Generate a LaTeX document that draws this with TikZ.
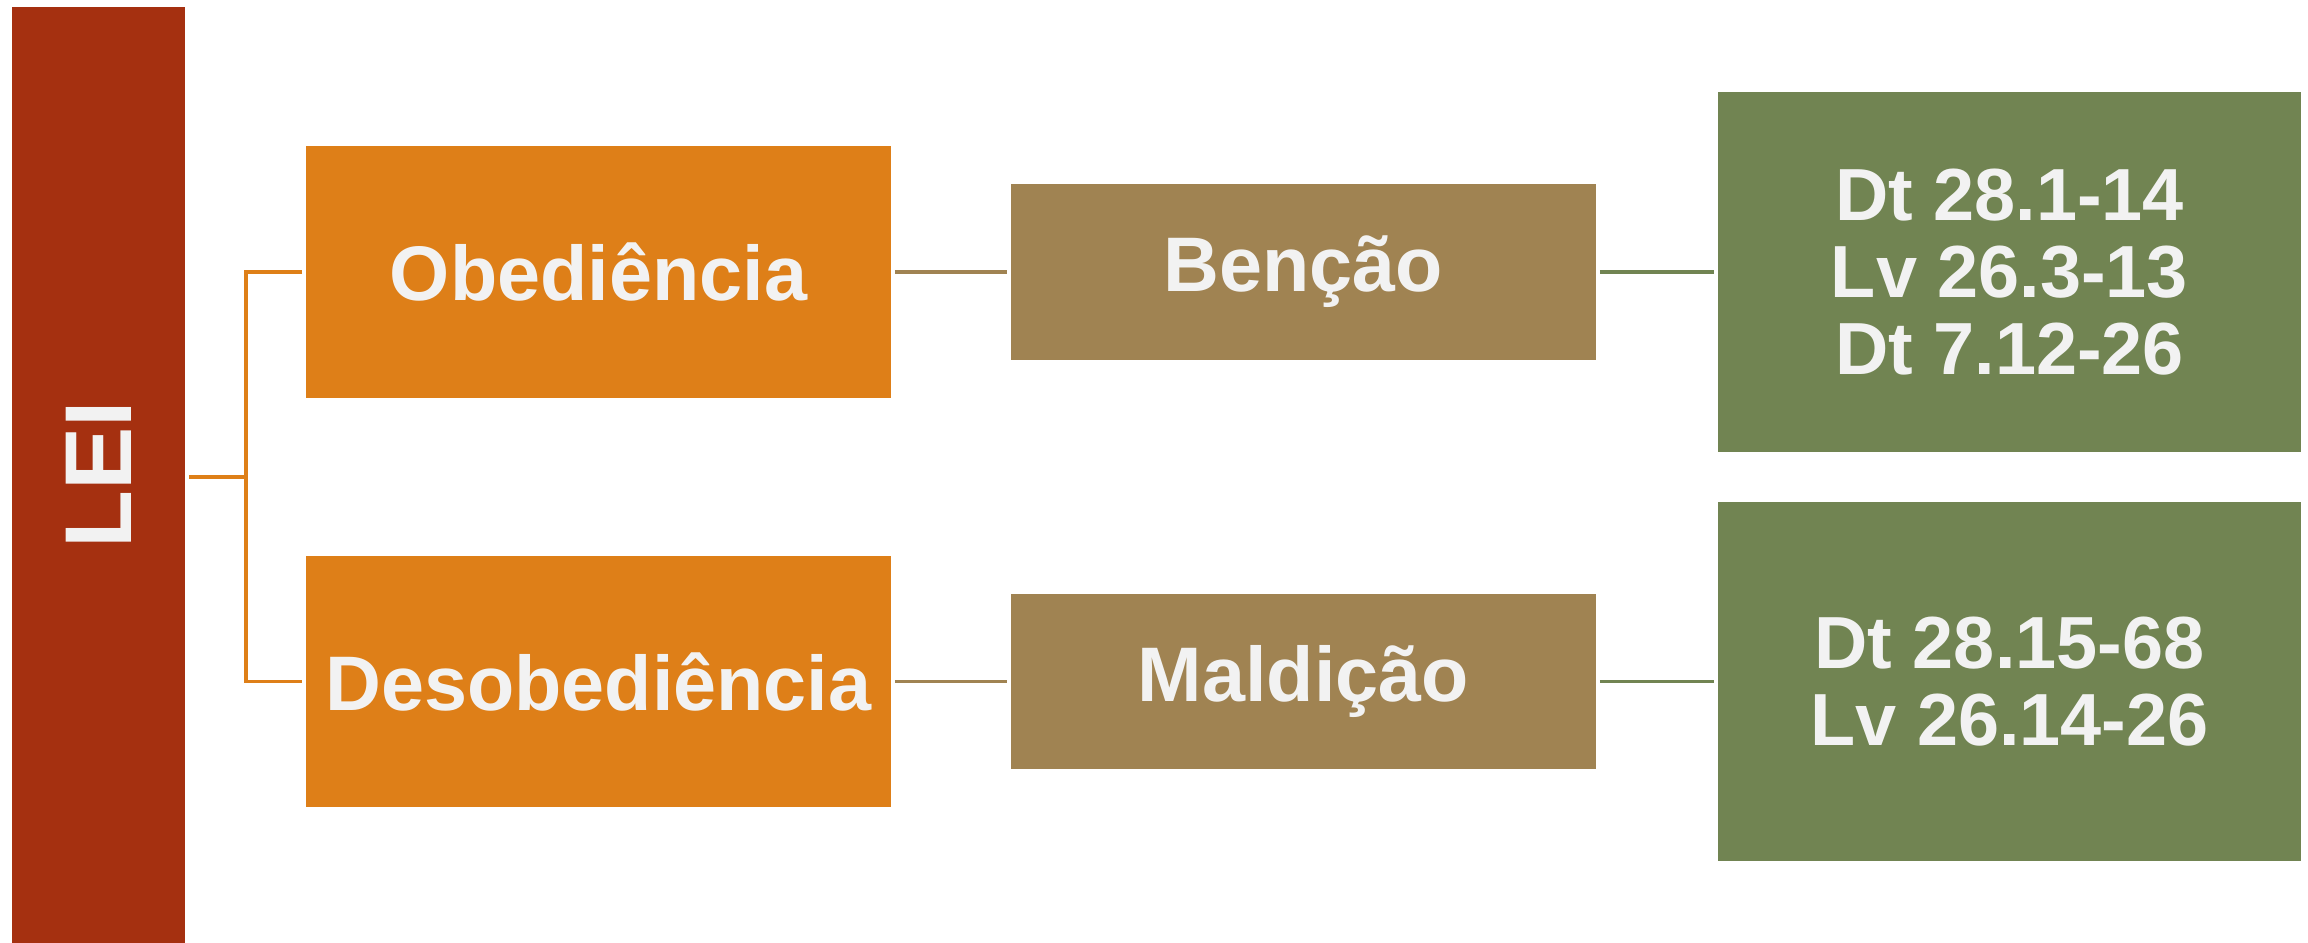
\documentclass[tikz,border=0pt]{standalone}
\usepackage{fontspec}
\setmainfont{Liberation Sans}
\usepackage{tikz}
\usetikzlibrary{positioning}
\usepackage{xcolor}
\definecolor{leired}{RGB}{165,48,16}
\definecolor{obedorange}{RGB}{222,127,24}
\definecolor{fruittan}{RGB}{160,131,82}
\definecolor{refgreen}{RGB}{113,132,82}
\definecolor{textgrey}{RGB}{242,242,242}

\begin{document}
\begin{tikzpicture} [
      x = 0.01cm, y = -0.01cm,
      every node/.style = { inner sep = 0, text = textgrey, font = \bfseries\fontsize{22}{24}\selectfont },
      box/.style = { rectangle, minimum width = 5.85cm, minimum height = #1 },
      link/.style = { line width = 0.9pt, shorten < = 0.03cm, shorten > = 0.03cm }
      ]
  \useasboundingbox (0,0) rectangle (2308,943);

  \node [fill = leired, minimum width = 1.73cm, minimum height = 9.36cm] (lei) at (98.5,475)
        {\rotatebox{90}{\fontsize{27}{30}\selectfont LEI}\hspace{0.1cm}};

  \node [box = 2.51cm, fill = obedorange] (obed) at (598.5,272) {Obediência};
  \node [box = 2.51cm, fill = obedorange] (desob) at (598.5,681.5) {Desobediência};

  \node [box = 1.75cm, fill = fruittan] (bencao) at (1303.5,272) {Benção};
  \node [box = 1.75cm, fill = fruittan] (maldicao) at (1303.5,681.5) {Maldição};

  \node [box = 3.59cm, minimum width = 5.83cm, fill = refgreen, align = center,
         font = \bfseries\fontsize{21}{22}\selectfont] (ref1) at (2009.5,272)
        {Dt 28.1-14\\Lv 26.3-13\\Dt 7.12-26};
  \node [box = 3.59cm, minimum width = 5.83cm, fill = refgreen, align = center,
         font = \bfseries\fontsize{21}{22}\selectfont] (ref2) at (2009.5,681.5)
        {Dt 28.15-68\\Lv 26.14-26};

  \coordinate (branch) at (246,477);
  \draw [link, obedorange, shorten > = 0] (lei.east |- branch) -- (branch);
  \draw [link, obedorange] (obed.west) -| (branch) |- (desob.west);

  \draw [link, fruittan] (obed) -- (bencao);
  \draw [link, fruittan] (desob) -- (maldicao);
  \draw [link, refgreen] (bencao) -- (ref1);
  \draw [link, refgreen] (maldicao) -- (ref2);
\end{tikzpicture}
\end{document}
